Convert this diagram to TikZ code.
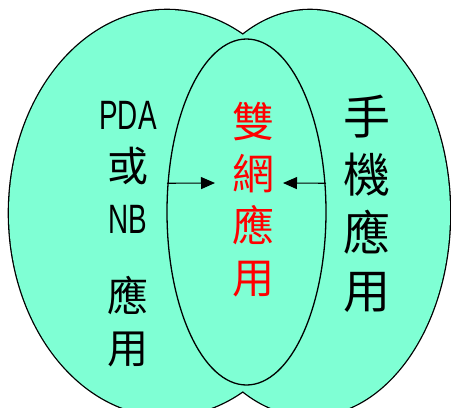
\documentclass[tikz,border=0pt]{standalone}
\usepackage{fontspec}
\setmainfont{Noto Sans CJK TC}
\newfontfamily\latinf[FakeStretch=0.68]{Liberation Sans}
\usetikzlibrary{arrows.meta, shapes.geometric}
\definecolor{aqua}{RGB}{127,255,212}

\begin{document}
\begin{tikzpicture}[x=1pt, y=-1pt, >={Triangle[length=14pt, width=12pt]},
	line cap=round, line join=round,
	ring/.style={ellipse, inner sep=0pt, minimum width=#1},
	column/.style={align=center, inner sep=0pt}]

\useasboundingbox (0,0) rectangle (451,408);

%========================
% outer ellipses (union)
%========================
\draw[line width=2.6pt] (167,213) ellipse (158 and 203);
\draw[line width=2.6pt] (310,213) ellipse (140 and 203);
\fill[aqua] (167,213) ellipse (158 and 203);
\fill[aqua] (310,213) ellipse (140 and 203);

% inner ellipse
\node[ring=159pt, minimum height=346pt, draw, line width=1.3pt] (inner) at (246.5,212) {};

%========================
% texts
%========================
\node[column, font=\fontsize{41}{52}\selectfont] (pda) at (128,234)
	{{\latinf PDA}\\或\\{\latinf NB}\\[26pt]應\\用};
\node[column, red, font=\fontsize{42}{52}\selectfont] (dual) at (254,200)
	{雙\\網\\應\\用};
\node[column, font=\fontsize{47}{58}\selectfont] (phone) at (367,204)
	{手\\機\\應\\用};

% arrows into the middle
\coordinate (lend) at (215,183);
\coordinate (rend) at (283,183);
\draw[->, line width=1.1pt] (inner.160) -- (lend);
\draw[->, line width=1.1pt] (inner.20) -- (rend);

\end{tikzpicture}
\end{document}
